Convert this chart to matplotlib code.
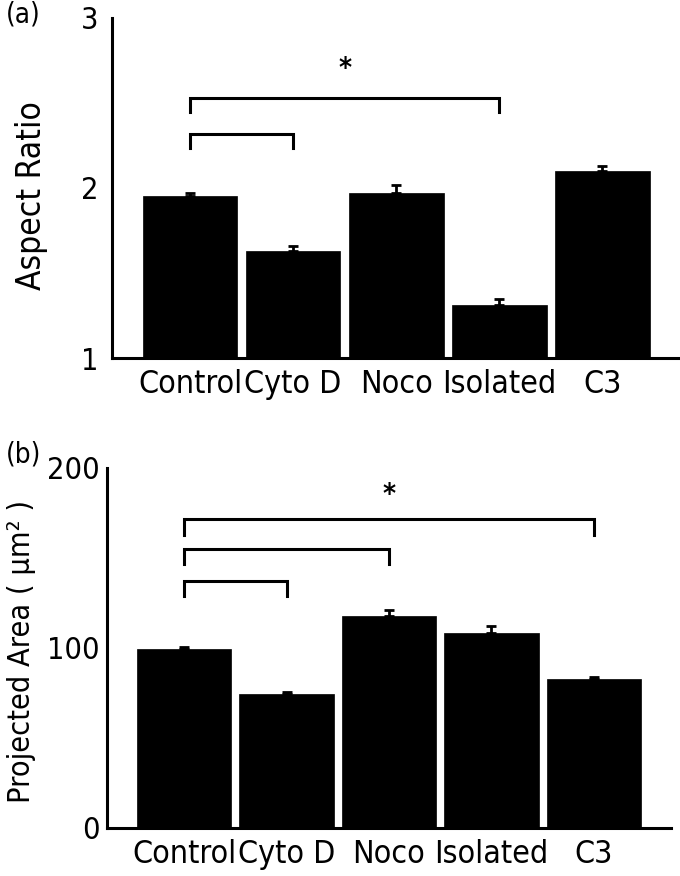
import matplotlib
matplotlib.use('Agg')
import matplotlib.pyplot as plt
from matplotlib import font_manager
import numpy as np

# data
categories = ['Control', 'Cyto D', 'Noco', 'Isolated', 'C3']

aspect_ratio = [1.95, 1.63, 1.97, 1.31, 2.10]
aspect_err = [0.02, 0.03, 0.05, 0.04, 0.03]

proj_area = [99.5, 74.3, 117.8, 108.4, 82.6]
area_err = [1.3, 1.3, 3.5, 4.0, 1.3]

# brackets: (start bar, end bar, height, leg length)
aspect_brackets = [(0, 3, 2.53, 0.085), (0, 1, 2.32, 0.085)]
aspect_star = 2.70
area_brackets = [(0, 4, 171.4, 8.6), (0, 2, 155.2, 8.6), (0, 1, 137.3, 8.6)]
area_star = 185.0

names = {f.name for f in font_manager.fontManager.ttflist}
if 'Liberation Sans Narrow' in names:
    FONT = 'Liberation Sans Narrow'
    STRETCH = 'normal'
else:
    FONT = 'DejaVu Sans'
    STRETCH = 'condensed'
plt.rcParams['font.family'] = [FONT, 'DejaVu Sans']
plt.rcParams['font.stretch'] = STRETCH

W, H = 680, 876


def draw_panel(ax, values, errs, brackets, star_y, ylim, yticks, ypad):
    x = np.arange(len(values))
    low = np.zeros(len(errs))
    ax.bar(x, values, width=0.92, color='black', edgecolor='black', linewidth=0.5)
    ax.errorbar(x, values, yerr=[low, errs], fmt='none', ecolor='black',
                elinewidth=2, capsize=3.5, capthick=2)
    for i0, i1, h, leg in brackets:
        ax.plot([x[i0], x[i0], x[i1], x[i1]], [h - leg, h, h, h - leg],
                color='black', lw=2.2, solid_joinstyle='miter', clip_on=False)
    xs = (x[brackets[0][0]] + x[brackets[0][1]]) / 2
    ax.text(xs, star_y, '*', ha='center', va='center', fontsize=20,
            fontweight='bold', family='DejaVu Sans')

    ax.set_xlim(-0.755, 4.755)
    ax.set_ylim(*ylim)
    ax.set_yticks(yticks)
    ax.set_xticks(x)
    ax.set_xticklabels(categories)
    ax.tick_params(axis='x', length=0, labelsize=23, pad=8)
    ax.tick_params(axis='y', length=0, labelsize=22, pad=ypad)
    for s in ['top', 'right']:
        ax.spines[s].set_visible(False)
    for s in ['left', 'bottom']:
        ax.spines[s].set_linewidth(2.2)


fig = plt.figure(figsize=(W / 100, H / 100), dpi=100)
ax1 = fig.add_axes([0.165, 0.5913, 0.835, 0.3882])
ax2 = fig.add_axes([0.157, 0.0548, 0.830, 0.411])

draw_panel(ax1, aspect_ratio, aspect_err, aspect_brackets, aspect_star,
           (1, 3), [1, 2, 3], 10)
draw_panel(ax2, proj_area, area_err, area_brackets, area_star,
           (0, 200), [0, 100, 200], 5)

fig.text(32 / W, 1 - 196 / H, 'Aspect Ratio', rotation=90, fontsize=24,
         ha='center', va='center')
fig.text(22 / W, 1 - 651 / H, 'Projected Area ( μm² )', rotation=90,
         fontsize=22, ha='center', va='center')
fig.text(6 / W, 1 - 14 / H, '(a)', fontsize=20, ha='left', va='center')
fig.text(6 / W, 1 - 454 / H, '(b)', fontsize=20, ha='left', va='center')

fig.savefig('out.png', dpi=100)
